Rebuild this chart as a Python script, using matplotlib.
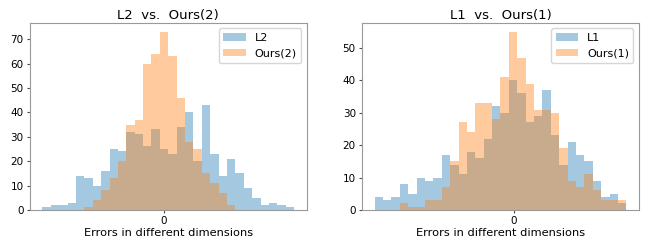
import numpy as np
import matplotlib
matplotlib.use("Agg")
import matplotlib.pyplot as plt

# per-bin counts (30 equal bins in each panel)
l2_counts = [1, 2, 2, 3, 14, 13, 10, 16, 25, 24, 32, 31, 26, 33, 25,
             23, 34, 40, 20, 43, 23, 14, 21, 15, 9, 5, 2, 3, 2, 1]
ours2_counts = [0, 0, 0, 0, 0, 1, 4, 8, 13, 20, 35, 37, 60, 64, 73,
                63, 46, 28, 25, 15, 11, 7, 2, 0, 0, 0, 0, 0, 0, 0]
l1_counts = [4, 3, 4, 8, 5, 10, 9, 10, 17, 14, 11, 18, 16, 22, 32,
             30, 40, 36, 27, 29, 37, 23, 14, 21, 17, 15, 9, 4, 5, 2]
ours1_counts = [0, 0, 0, 2, 1, 1, 3, 3, 7, 15, 27, 24, 33, 33, 28,
                41, 55, 47, 39, 31, 31, 30, 19, 9, 7, 11, 6, 3, 3, 3]

# bin edges in error units (zero sits inside the middle bins)
left_edges = np.arange(31) - 14.44
right_edges = np.arange(31) - 16.6

panels = [
    ("L2  vs.  Ours(2)", "L2", "Ours(2)", l2_counts, ours2_counts, left_edges),
    ("L1  vs.  Ours(1)", "L1", "Ours(1)", l1_counts, ours1_counts, right_edges),
]

fig, axes = plt.subplots(1, 2, figsize=(6.48, 2.41), dpi=100)
fig.subplots_adjust(left=0.046, right=0.986, bottom=0.129, top=0.905, wspace=0.2)

for ax, (title, base, ours, c_base, c_ours, edges) in zip(axes, panels):
    centers = (edges[:-1] + edges[1:]) / 2
    ax.hist(centers, bins=edges, weights=c_base, alpha=0.4, label=base)
    ax.hist(centers, bins=edges, weights=c_ours, alpha=0.4, label=ours)
    ax.set_title(title, fontsize=9.5, pad=3)
    ax.set_xlabel("Errors in different dimensions", fontsize=8.2, labelpad=1)
    ax.set_xticks([0])
    ax.tick_params(labelsize=7.5, length=2.5, pad=2, color="0.3")
    for s in ax.spines.values():
        s.set_color("0.6")
    ax.legend(loc="upper right", fontsize=8, handlelength=2.0)

fig.savefig("out.png", dpi=100)
